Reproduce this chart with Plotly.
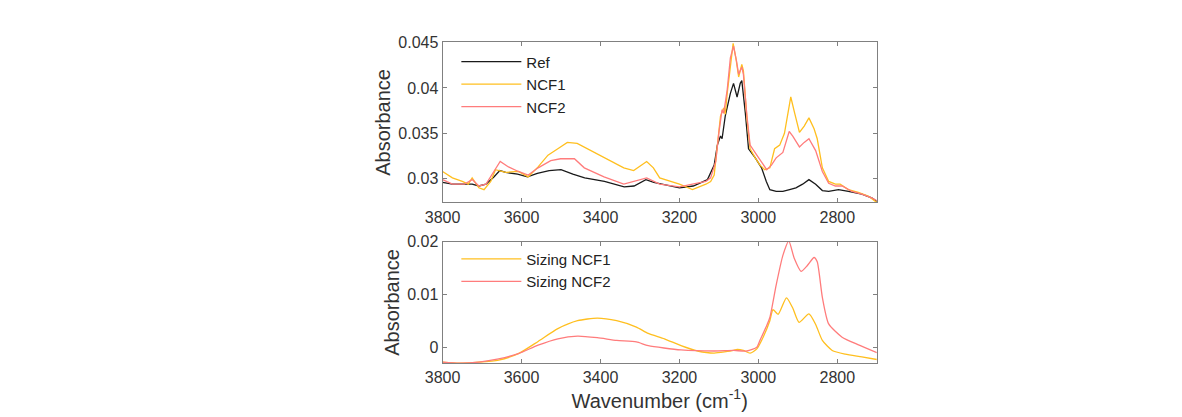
import plotly.graph_objects as go
from plotly.subplots import make_subplots

# top panel: FTIR absorbance of the fibres
wn_ref = [3800, 3775, 3750, 3725, 3708, 3690, 3670, 3655, 3640, 3610, 3585, 3560, 3530, 3500,
          3470, 3440, 3390, 3340, 3315, 3285, 3265, 3240, 3200, 3165, 3129, 3112, 3104, 3096,
          3092, 3084, 3071, 3063, 3054, 3046, 3042, 3033, 3025, 3008, 2992, 2980, 2971, 2955,
          2938, 2921, 2905, 2888, 2872, 2855, 2838, 2822, 2797, 2772, 2738, 2713, 2700]
abs_ref = [0.0296, 0.0294, 0.0294, 0.0294, 0.0292, 0.0294, 0.0302, 0.0309, 0.0307, 0.0305, 0.0302,
           0.0306, 0.0309, 0.0310, 0.0305, 0.0301, 0.0297, 0.0291, 0.0292, 0.0299, 0.0296, 0.0294,
           0.0290, 0.0292, 0.0299, 0.0315, 0.0337, 0.0347, 0.0344, 0.0369, 0.0394, 0.0405, 0.0390,
           0.0405, 0.0408, 0.0372, 0.0333, 0.0323, 0.0312, 0.0297, 0.0288, 0.0286, 0.0286, 0.0288,
           0.0290, 0.0294, 0.0299, 0.0294, 0.0287, 0.0286, 0.0288, 0.0286, 0.0283, 0.0279, 0.0275]

wn_ncf1 = [3800, 3775, 3750, 3735, 3725, 3708, 3695, 3678, 3666, 3640, 3608, 3583, 3558, 3533,
           3508, 3484, 3459, 3441, 3391, 3341, 3316, 3283, 3266, 3250, 3200, 3167, 3133, 3121,
           3112, 3104, 3096, 3088, 3084, 3079, 3071, 3064, 3056, 3050, 3042, 3038, 3029, 3021,
           3008, 2996, 2984, 2971, 2959, 2946, 2934, 2926, 2918, 2908, 2896, 2884, 2872, 2859,
           2851, 2838, 2822, 2805, 2793, 2772, 2747, 2722, 2700]
abs_ncf1 = [0.0308, 0.0301, 0.0297, 0.0294, 0.0301, 0.0290, 0.0288, 0.0297, 0.0310, 0.0307, 0.0308,
            0.0302, 0.0313, 0.0326, 0.0333, 0.0340, 0.0339, 0.0335, 0.0324, 0.0312, 0.0309, 0.0319,
            0.0312, 0.0301, 0.0294, 0.0288, 0.0294, 0.0297, 0.0304, 0.0337, 0.0369, 0.0378, 0.0371,
            0.0394, 0.0426, 0.0449, 0.0430, 0.0412, 0.0426, 0.0419, 0.0366, 0.0333, 0.0323, 0.0315,
            0.0310, 0.0312, 0.0333, 0.0337, 0.0350, 0.0372, 0.0390, 0.0372, 0.0351, 0.0358, 0.0367,
            0.0355, 0.0344, 0.0312, 0.0297, 0.0294, 0.0294, 0.0288, 0.0285, 0.0281, 0.0274]

wn_ncf2 = [3800, 3775, 3745, 3725, 3708, 3690, 3670, 3654, 3633, 3608, 3583, 3558, 3526, 3501,
           3484, 3466, 3441, 3391, 3341, 3283, 3250, 3200, 3167, 3133, 3121, 3108, 3100, 3092,
           3088, 3079, 3071, 3063, 3056, 3050, 3042, 3038, 3029, 3021, 3004, 2988, 2979, 2967,
           2955, 2938, 2922, 2913, 2896, 2884, 2872, 2855, 2838, 2822, 2805, 2788, 2763, 2738,
           2713, 2700]
abs_ncf2 = [0.0299, 0.0294, 0.0294, 0.0299, 0.0292, 0.0294, 0.0308, 0.0319, 0.0313, 0.0308, 0.0304,
            0.0312, 0.0320, 0.0322, 0.0322, 0.0322, 0.0312, 0.0302, 0.0294, 0.0301, 0.0294, 0.0291,
            0.0294, 0.0297, 0.0301, 0.0319, 0.0351, 0.0376, 0.0372, 0.0398, 0.0433, 0.0446, 0.0431,
            0.0415, 0.0423, 0.0415, 0.0369, 0.0337, 0.0326, 0.0315, 0.0310, 0.0315, 0.0323, 0.0329,
            0.0352, 0.0347, 0.0335, 0.0340, 0.0344, 0.0331, 0.0308, 0.0295, 0.0292, 0.0292, 0.0286,
            0.0283, 0.0279, 0.0276]

# bottom panel: sizing spectra
wn_s1 = [3800, 3758, 3708, 3658, 3608, 3558, 3508, 3458, 3408, 3359, 3309, 3279, 3238, 3196,
         3154, 3112, 3063, 3054, 3038, 3021, 3004, 2988, 2971, 2963, 2950, 2929, 2913, 2897,
         2872, 2855, 2838, 2813, 2780, 2738, 2700]
abs_s1 = [-0.0027, -0.0029, -0.0027, -0.0023, -0.0011, 0.0012, 0.0036, 0.0051, 0.0056, 0.0051,
          0.0039, 0.0027, 0.0017, 0.0004, -0.0006, -0.0010, -0.0005, -0.0003, -0.0005, -0.0010,
          -0.0002, 0.0020, 0.0051, 0.0072, 0.0063, 0.0094, 0.0075, 0.0048, 0.0064, 0.0044, 0.0014,
          -0.0005, -0.0012, -0.0017, -0.0022]

wn_s2 = [3800, 3758, 3708, 3658, 3608, 3558, 3508, 3458, 3408, 3359, 3309, 3279, 3196, 3112,
         3063, 3029, 3004, 2996, 2980, 2971, 2955, 2938, 2923, 2909, 2892, 2876, 2859, 2851,
         2838, 2822, 2788, 2748, 2700]
abs_s2 = [-0.0027, -0.0029, -0.0027, -0.0021, -0.0011, 0.0005, 0.0017, 0.0022, 0.0019, 0.0014,
          0.0011, 0.0004, -0.0004, -0.0006, -0.0005, -0.0006, 0.0001, 0.0014, 0.0040, 0.0057,
          0.0118, 0.0174, 0.0201, 0.0168, 0.0144, 0.0155, 0.0170, 0.0162, 0.0095, 0.0045, 0.0020,
          0.0006, -0.0009]

black = '#1a1a1a'
gold = '#FFBF1F'
salmon = '#FF7C7C'
grey = '#808080'
txt = '#333333'
font = 'Liberation Sans, Arial, sans-serif'

fig = make_subplots(rows=2, cols=1)

fig.add_trace(go.Scatter(x=wn_ref, y=abs_ref, name='Ref', mode='lines',
                         line=dict(color=black, width=1.3), legend='legend'), row=1, col=1)
fig.add_trace(go.Scatter(x=wn_ncf1, y=abs_ncf1, name='NCF1', mode='lines',
                         line=dict(color=gold, width=1.3), legend='legend'), row=1, col=1)
fig.add_trace(go.Scatter(x=wn_ncf2, y=abs_ncf2, name='NCF2', mode='lines',
                         line=dict(color=salmon, width=1.3), legend='legend'), row=1, col=1)

# sizing curves are smooth in the original, so use spline
fig.add_trace(go.Scatter(x=wn_s1, y=abs_s1, name='Sizing NCF1', mode='lines',
                         line=dict(color=gold, width=1.3, shape='spline', smoothing=0.6),
                         legend='legend2'), row=2, col=1)
fig.add_trace(go.Scatter(x=wn_s2, y=abs_s2, name='Sizing NCF2', mode='lines',
                         line=dict(color=salmon, width=1.3, shape='spline', smoothing=0.6),
                         legend='legend2'), row=2, col=1)

W, H = 1182, 417
OFF = 8  # page body margin pushes the whole figure by 8px

def px_x(p):
    return (p - OFF) / W

def px_y(p):
    return 1 - (p - OFF) / H

axis_style = dict(showline=True, linecolor=grey, linewidth=1, mirror='allticks',
                  ticks='inside', ticklen=4, tickcolor=grey, showgrid=False, zeroline=False,
                  tickfont=dict(family=font, size=16, color=txt))

fig.update_xaxes(axis_style)
fig.update_yaxes(axis_style)

fig.update_xaxes(range=[3800, 2700], tickvals=[3800, 3600, 3400, 3200, 3000, 2800],
                 domain=[px_x(431), px_x(872)])
fig.update_xaxes(row=2, col=1, title=dict(text='Wavenumber (cm<sup>-1</sup>)', standoff=3,
                                          font=dict(family=font, size=20, color=txt)))
fig.update_yaxes(row=1, col=1, range=[0.0274, 0.045],
                 tickvals=[0.03, 0.035, 0.04, 0.045], ticktext=['0.03', '0.035', '0.04', '0.045'],
                 domain=[px_y(198), px_y(35)],
                 title=dict(text='Absorbance', standoff=2, font=dict(family=font, size=20, color=txt)))
fig.update_yaxes(row=2, col=1, range=[-0.0029, 0.02],
                 tickvals=[0, 0.01, 0.02], ticktext=['0', '0.01', '0.02'],
                 domain=[px_y(362), px_y(238)],
                 title=dict(text='Absorbance', standoff=2, font=dict(family=font, size=20, color=txt)))

legend_style = dict(font=dict(family=font, size=15, color='#222222'), bgcolor='rgba(0,0,0,0)',
                    borderwidth=0, xanchor='left', yanchor='top', itemwidth=60,
                    tracegroupgap=0)

fig.update_layout(
    width=W, height=H,
    margin=dict(l=0, r=0, t=0, b=0),
    paper_bgcolor='white', plot_bgcolor='white',
    legend=dict(legend_style, x=px_x(445), y=px_y(38)),
    legend2=dict(legend_style, x=px_x(445), y=px_y(239)),
)

fig.write_html("out.html")
